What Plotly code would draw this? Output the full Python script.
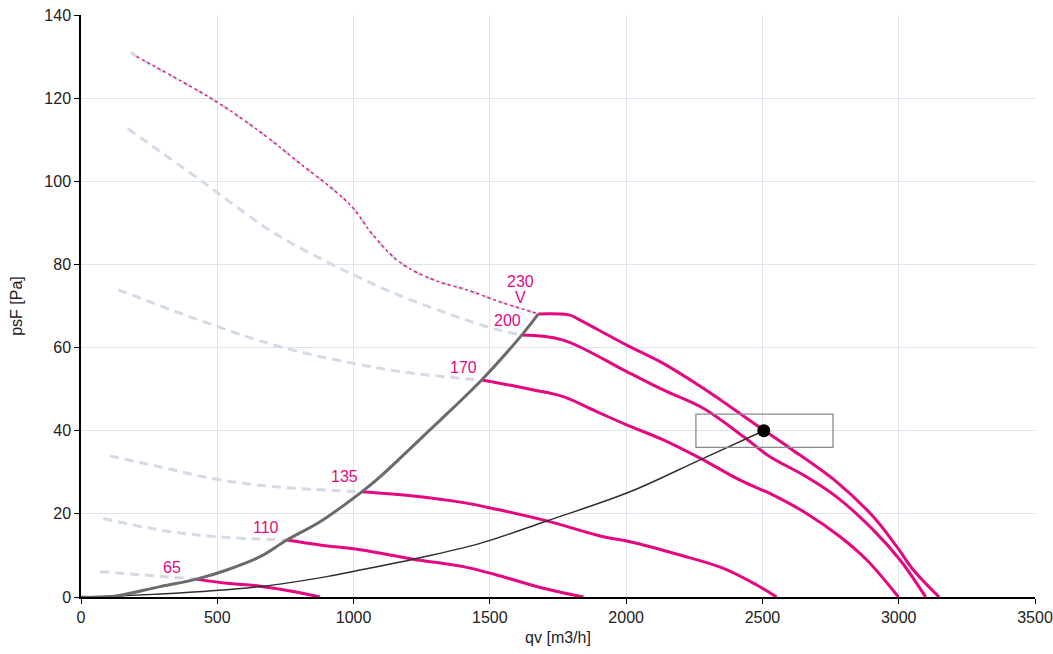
import plotly.graph_objects as go

PINK = "#e5077f"
DASH_COL = "#d3dbe7"

# Fan curves (solid) per voltage step: qv [m3/h], psF [Pa]
v230_x = [1678, 1794, 1831, 2002, 2136, 2283, 2503, 2601, 2772, 2907, 2993, 3054, 3148]
v230_y = [68.1, 67.8, 66.6, 60.6, 56.2, 50.2, 40.2, 35.8, 27.7, 19.3, 12.1, 6.5, 0.0]
v200_x = [1617, 1769, 2002, 2136, 2283, 2430, 2522, 2662, 2772, 2907, 3005, 3099]
v200_y = [63.0, 61.8, 54.2, 49.8, 45.4, 38.6, 34.0, 28.9, 24.1, 16.1, 8.9, 0.0]
v170_x = [1470, 1586, 1660, 1769, 1892, 2002, 2136, 2271, 2418, 2540, 2662, 2785, 2883, 2999]
v170_y = [52.2, 50.8, 49.8, 48.2, 44.6, 41.4, 37.8, 33.4, 28.1, 24.5, 20.1, 14.5, 8.9, 0.0]
v135_x = [1030, 1219, 1403, 1525, 1709, 1916, 2014, 2198, 2357, 2479, 2552]
v135_y = [25.3, 24.3, 22.7, 21.1, 18.3, 14.5, 13.3, 10.1, 6.9, 2.9, 0.0]
v110_x = [755, 877, 1030, 1219, 1403, 1525, 1696, 1843]
v110_y = [13.7, 12.5, 11.3, 9.1, 7.3, 5.3, 2.1, 0.0]
v65_x = [424, 535, 657, 779, 877]
v65_y = [4.3, 3.3, 2.6, 1.3, 0.0]

# Stall-region extensions (dashed)
d230_x = [183, 204, 498, 681, 803, 926, 999, 1072, 1170, 1293, 1415, 1537, 1678]
d230_y = [131.1, 130.0, 119.1, 110.7, 104.3, 98.0, 93.5, 87.0, 80.5, 76.3, 73.9, 71.0, 68.1]
d200_x = [171, 437, 681, 803, 999, 1170, 1354, 1500, 1617]
d200_y = [112.7, 100.3, 88.7, 84.0, 77.5, 72.5, 68.0, 64.8, 63.0]
d170_x = [137, 485, 730, 999, 1219, 1470]
d170_y = [73.9, 65.4, 60.2, 56.2, 53.8, 52.2]
d135_x = [106, 290, 498, 718, 1030]
d135_y = [33.9, 31.3, 28.3, 26.5, 25.3]
d110_x = [82, 290, 498, 755]
d110_y = [18.9, 16.1, 14.5, 13.7]
d65_x = [70, 229, 424]
d65_y = [6.1, 5.3, 4.3]

# Max-pressure boundary curve
max_x = [0, 106, 290, 424, 535, 657, 755, 877, 1030, 1097, 1280, 1470, 1617, 1678]
max_y = [0, 0, 2.5, 4.3, 6.5, 9.7, 13.7, 18.1, 25.3, 28.9, 40.2, 52.2, 63.0, 68.1]

# System curve
sys_x = [0, 290, 657, 901, 1024, 1219, 1464, 1709, 2014, 2271, 2505]
sys_y = [0, 0.7, 2.5, 4.9, 6.5, 9.1, 12.9, 18.3, 25.3, 33.0, 40.0]

# Operating point and tolerance box
op_x, op_y = 2505, 40.0
box_x = [2256, 2759]
box_y = [36.0, 44.0]

labels = ["230", "V", "200", "170", "135", "110", "65"]
label_x = [1611, 1611, 1563, 1405, 965, 679, 334]
label_y = [76.0, 72.0, 66.6, 55.3, 29.1, 16.8, 7.2]

fig = go.Figure()

for dx, dy in [(d230_x, d230_y), (d200_x, d200_y), (d170_x, d170_y),
               (d135_x, d135_y), (d110_x, d110_y), (d65_x, d65_y)]:
    fig.add_trace(go.Scatter(x=dx, y=dy, mode="lines", line_shape="spline",
                             line=dict(color=DASH_COL, width=3, dash="9px,6px"),
                             hoverinfo="skip", showlegend=False))

# dotted pink upper extension for 230 V
fig.add_trace(go.Scatter(x=d230_x[1:], y=d230_y[1:], mode="lines", line_shape="spline",
                         line=dict(color=PINK, width=1.3, dash="dot"),
                         showlegend=False))

for cx, cy in [(v230_x, v230_y), (v200_x, v200_y), (v170_x, v170_y),
               (v135_x, v135_y), (v110_x, v110_y), (v65_x, v65_y)]:
    fig.add_trace(go.Scatter(x=cx, y=cy, mode="lines", line_shape="spline",
                             line=dict(color=PINK, width=3), showlegend=False))

fig.add_trace(go.Scatter(x=sys_x, y=sys_y, mode="lines", line_shape="spline",
                         line=dict(color="#2f2f2f", width=1.5), showlegend=False))
fig.add_trace(go.Scatter(x=max_x, y=max_y, mode="lines", line_shape="spline",
                         line=dict(color="#6b6b6b", width=3), showlegend=False))

fig.add_shape(type="rect", x0=box_x[0], x1=box_x[1], y0=box_y[0], y1=box_y[1],
              line=dict(color="#8a8a8a", width=1.3), fillcolor="rgba(0,0,0,0)")
fig.add_trace(go.Scatter(x=[op_x], y=[op_y], mode="markers",
                         marker=dict(color="black", size=13), showlegend=False))

for t, lx, ly in zip(labels, label_x, label_y):
    fig.add_annotation(x=lx, y=ly, text=t, showarrow=False,
                       font=dict(color=PINK, size=16, family="Liberation Sans"))

axis_common = dict(showline=True, linecolor="black", linewidth=1.5,
                   ticks="outside", ticklen=5, tickcolor="black",
                   showgrid=True, gridcolor="#dde4ee", gridwidth=1,
                   zeroline=False, tickfont=dict(size=16, color="#222222"),
                   mirror=False, automargin=False, ticklabeloverflow="allow")

fig.update_xaxes(range=[0, 3500], dtick=500, title=dict(text="qv [m3/h]", standoff=7,
                 font=dict(size=16, color="#222222")), **axis_common)
fig.update_yaxes(range=[0, 140], dtick=20, title=dict(text="psF [Pa]", standoff=18,
                 font=dict(size=16, color="#222222")), **axis_common)

fig.update_layout(width=1053, height=654, plot_bgcolor="white", paper_bgcolor="white",
                  margin=dict(l=81, r=18, t=15, b=57),
                  font=dict(family="Liberation Sans"))

fig.write_html("out.html", config={"displayModeBar": False},
               post_script="document.body.style.margin='0px';document.body.style.overflow='hidden';")
